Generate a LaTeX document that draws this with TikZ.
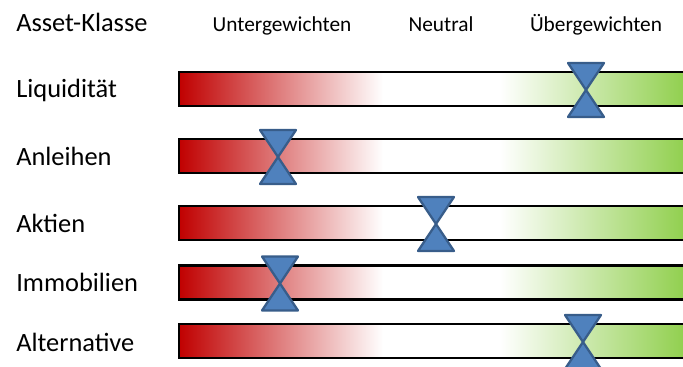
\documentclass[tikz,border=0pt]{standalone}
\usepackage{fontspec}
\setmainfont{Carlito}
\definecolor{barred}{HTML}{C00000}
\definecolor{bargreen}{HTML}{92D050}
\definecolor{markfill}{HTML}{4F81BD}
\definecolor{markline}{HTML}{385D8A}
\tikzset{
  px/.style={x=0.75pt,y=-0.75pt},
  header/.style={inner sep=0pt,anchor=base,font=\fontsize{16}{19}\selectfont},
  title/.style={inner sep=0pt,anchor=base west,font=\fontsize{19.8}{23}\selectfont},
  rowlabel/.style={inner sep=0pt,anchor=base west,font=\fontsize{19.8}{23}\selectfont},
  barframe/.style={draw=black,line width=1.6pt},
  marker/.style={fill=markfill,draw=markline,line width=1.7pt,line join=round},
}
\begin{document}
\begin{tikzpicture}[px]
\useasboundingbox (0,0) rectangle (683,367);
\clip (0,0) rectangle (683,367);
% headers
\node[title] (hclass) at (16,32) {Asset-Klasse};
\node[header] (hunder) at (282,32) {Untergewichten};
\node[header] (hneutral) at (441,32) {Neutral};
\node[header] (hover) at (596,32) {Übergewichten};
% rows: name/label/bar center y/label baseline/marker x
\foreach \nm/\lab/\cy/\bl/\mx in {liq/Liquidität/89/98/586,
                                  anl/Anleihen/156/166/278,
                                  akt/Aktien/223/233/436,
                                  imm/Immobilien/282.5/292/280,
                                  alt/Alternative/341/352/583}{
  \node[rowlabel] (lab-\nm) at (16,\bl) {\lab};
  % bar shading
  \shade[left color=barred,right color=white] (179,\cy-17) rectangle (383,\cy+17);
  \fill[white] (383,\cy-17) rectangle (500,\cy+17);
  \shade[left color=white,right color=bargreen] (500,\cy-17) rectangle (683,\cy+17);
  \node[barframe,inner sep=0pt,minimum width=520*0.75pt,minimum height=34*0.75pt,anchor=west] (bar-\nm) at (178,\cy) {};
  % marker
  \coordinate (m-\nm) at (\mx,\cy+1);
  \draw[marker] ([shift={(-18,-27)}]m-\nm) -- ([shift={(18,-27)}]m-\nm)
     -- ([shift={(-18,27)}]m-\nm) -- ([shift={(18,27)}]m-\nm) -- cycle;
}
\end{tikzpicture}
\end{document}
